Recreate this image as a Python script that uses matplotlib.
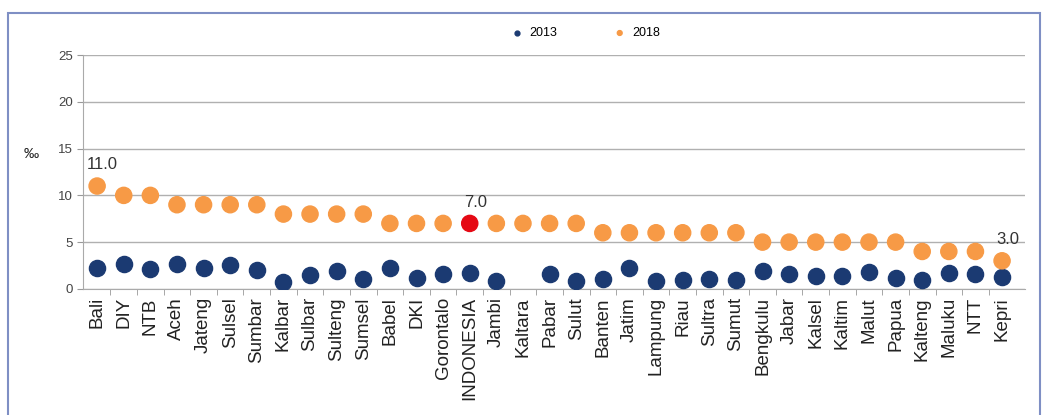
import numpy as np
import matplotlib.pyplot as plt
from matplotlib.patches import Rectangle

plt.rcParams['font.family'] = ['Liberation Sans', 'DejaVu Sans']

provinces = ['Bali', 'DIY', 'NTB', 'Aceh', 'Jateng', 'Sulsel', 'Sumbar', 'Kalbar', 'Sulbar',
             'Sulteng', 'Sumsel', 'Babel', 'DKI', 'Gorontalo', 'INDONESIA', 'Jambi', 'Kaltara',
             'Pabar', 'Sulut', 'Banten', 'Jatim', 'Lampung', 'Riau', 'Sultra', 'Sumut',
             'Bengkulu', 'Jabar', 'Kalsel', 'Kaltim', 'Malut', 'Papua', 'Kalteng', 'Maluku',
             'NTT', 'Kepri']
val_2018 = [11, 10, 10, 9, 9, 9, 9, 8, 8, 8, 8, 7, 7, 7, 7, 7, 7, 7, 7, 6, 6, 6, 6, 6, 6,
            5, 5, 5, 5, 5, 5, 4, 4, 4, 3]
# Kaltara has no 2013 value
val_2013 = [2.2, 2.7, 2.1, 2.7, 2.2, 2.6, 2.0, 0.7, 1.5, 1.9, 1.1, 2.2, 1.2, 1.6, 1.7, 0.8, np.nan,
            1.6, 0.8, 1.1, 2.2, 0.8, 0.9, 1.1, 0.9, 1.9, 1.6, 1.4, 1.4, 1.8, 1.2, 0.9, 1.7,
            1.6, 1.3]
labelled = {'Bali': '11.0', 'INDONESIA': '7.0', 'Kepri': '3.0'}

orange = '#F79A46'
navy = '#1B3A72'
red = '#E50914'

fig = plt.figure(figsize=(10.56, 4.15), dpi=100)
ax = fig.add_axes([0.0786, 0.304, 0.892, 0.563])

x = np.arange(len(provinces))
c18 = [red if p == 'INDONESIA' else orange for p in provinces]
ax.scatter(x, val_2013, s=135, color=navy, zorder=3, label='2013')
ax.scatter(x, val_2018, s=135, color=c18, zorder=3, label='2018')

for i, p in enumerate(provinces):
    if p in labelled:
        ax.annotate(labelled[p], (i, val_2018[i]), xytext=(4, 10), textcoords='offset points',
                    ha='center', va='bottom', fontsize=12, color='#333333', zorder=5)

ax.set_xlim(-0.53, len(provinces) - 0.14)
ax.set_ylim(0, 25)
ax.set_yticks([0, 5, 10, 15, 20, 25])
ax.set_xticks(x)
ax.set_xticklabels(provinces, rotation=90, fontsize=13.5, color='#222222')
ax.set_xticks(x[:-1] + 0.5, minor=True)
ax.tick_params(axis='y', labelsize=9.5, colors='#444444', length=4, color='#999999')
ax.tick_params(axis='x', which='major', length=0, pad=6)
ax.tick_params(axis='x', which='minor', length=4, color='#999999')
ax.grid(axis='y', color='#B0B0B0', lw=1)
ax.set_axisbelow(True)
for s in ['top', 'right']:
    ax.spines[s].set_visible(False)
ax.spines['left'].set_color('#AAAAAA')
ax.spines['bottom'].set_color('#AAAAAA')

fig.text(0.022, 0.63, '‰', fontsize=11, color='#222222', ha='left', va='center')

leg = ax.legend(loc='lower center', bbox_to_anchor=(0.53, 1.02), ncol=2, frameon=False,
                fontsize=9, markerscale=0.3, handletextpad=0.0, columnspacing=4)

fig.patches.append(Rectangle((0.008, -0.01), 0.977, 0.978, transform=fig.transFigure,
                             fill=False, edgecolor='#7F8FC4', lw=1.5))

fig.savefig('out.png', dpi=100)
